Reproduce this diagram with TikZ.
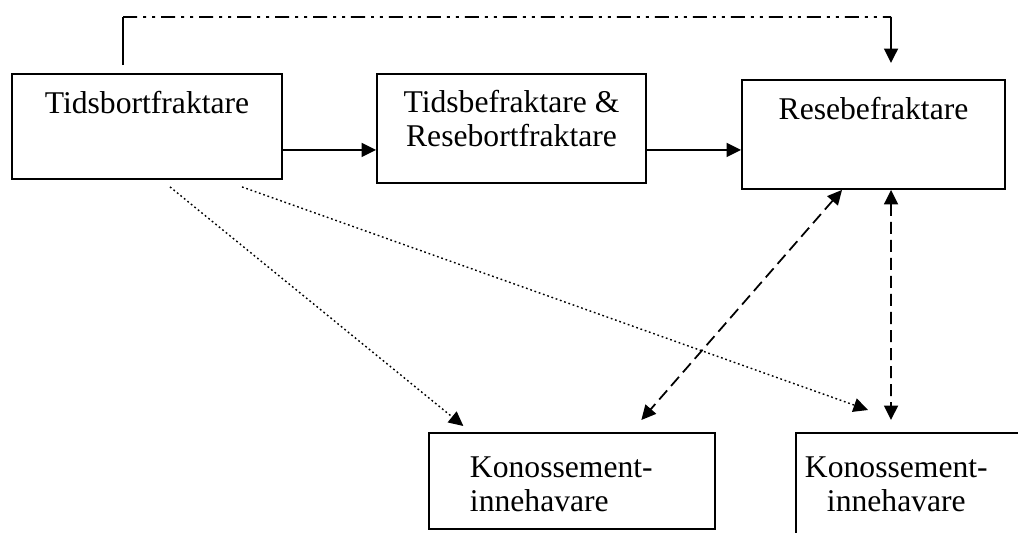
\documentclass[tikz,border=0pt]{standalone}
\usepackage{fontspec}
\setmainfont{Liberation Serif}
\usetikzlibrary{arrows.meta, positioning}

\begin{document}
\begin{tikzpicture}[
    party/.style={rectangle, draw=black, line width=1.1pt, inner sep=0pt, font=\fontsize{18}{19}\selectfont},
    flow/.style={line width=1pt, -{Triangle[length=0.29cm, width=0.28cm]}},
    both/.style={line width=1pt, dash pattern=on 0.24cm off 0.12cm, {Triangle[length=0.29cm, width=0.28cm]}-{Triangle[length=0.29cm, width=0.28cm]}},
    hint/.style={line width=0.8pt, dash pattern=on 0.035cm off 0.055cm, -{Triangle[length=0.29cm, width=0.28cm]}},
    charter/.style={line width=1pt, dash pattern=on 0.28cm off 0.12cm on 0.06cm off 0.12cm on 0.06cm off 0.12cm}
]
\useasboundingbox (0,0) rectangle (20.36,10.64);
\clip (0,0) rectangle (20.36,10.64);

% Parties
\node[party, minimum width=5.4cm, text height=0.8cm, text depth=1.3cm, anchor=north] (tbf) at (2.94, 9.18) {Tidsbortfraktare};
\node[party, minimum width=5.38cm, text height=0.78cm, text depth=1.4cm, anchor=north] (tbr) at (10.23, 9.18)
    {\begin{tabular}[t]{@{}c@{}}Tidsbefraktare \&\\Resebortfraktare\end{tabular}};
\node[party, minimum width=5.26cm, text height=0.8cm, text depth=1.38cm, anchor=north] (rbf) at (17.47, 9.06) {Resebefraktare};

% Holders
\node[party, anchor=north west, inner xsep=0.82cm, text height=0.9cm, text depth=1.02cm] (kh1) at (8.56, 2.0)
    {\begin{tabular}[t]{@{}l@{}}Konossement-\\innehavare\end{tabular}\hspace*{0.42cm}};
\node[party, anchor=north west, inner xsep=0.18cm, text height=0.9cm, text depth=1.6cm] (kh2) at (15.9, 2.0)
    {\begin{tabular}[t]{@{}c@{}}Konossement-\\innehavare\end{tabular}\hspace*{2cm}};

% Charter chain
\draw[flow] ([yshift=-0.47cm]tbf.east) -- ([yshift=-0.47cm]tbf.east -| tbr.west);
\draw[flow] ([yshift=-0.43cm]tbr.east) -- ([yshift=-0.43cm]tbr.east -| rbf.west);

% Top link
\draw[line width=1pt] ([xshift=-0.48cm, yshift=0.16cm]tbf.north) -- ++(0,0.96) coordinate (c1);
\coordinate (c2) at (17.82, 10.3);
\draw[charter] (c1) -- (c2);
\draw[flow] (c2) -- ([xshift=0.35cm, yshift=0.32cm]rbf.north);

% Dotted links
\draw[hint] ([xshift=0.46cm, yshift=-0.14cm]tbf.south) -- ([xshift=-2.17cm, yshift=0.12cm]kh1.north);
\draw[hint] ([xshift=1.9cm, yshift=-0.14cm]tbf.south) -- ([xshift=1.46cm, yshift=0.44cm]kh2.north west);

% Dashed links
\draw[both] ([xshift=-0.63cm]rbf.south) -- ([xshift=1.39cm, yshift=0.24cm]kh1.north);
\draw[both] ([xshift=0.35cm]rbf.south) -- ([xshift=1.92cm, yshift=0.24cm]kh2.north west);

\end{tikzpicture}
\end{document}
